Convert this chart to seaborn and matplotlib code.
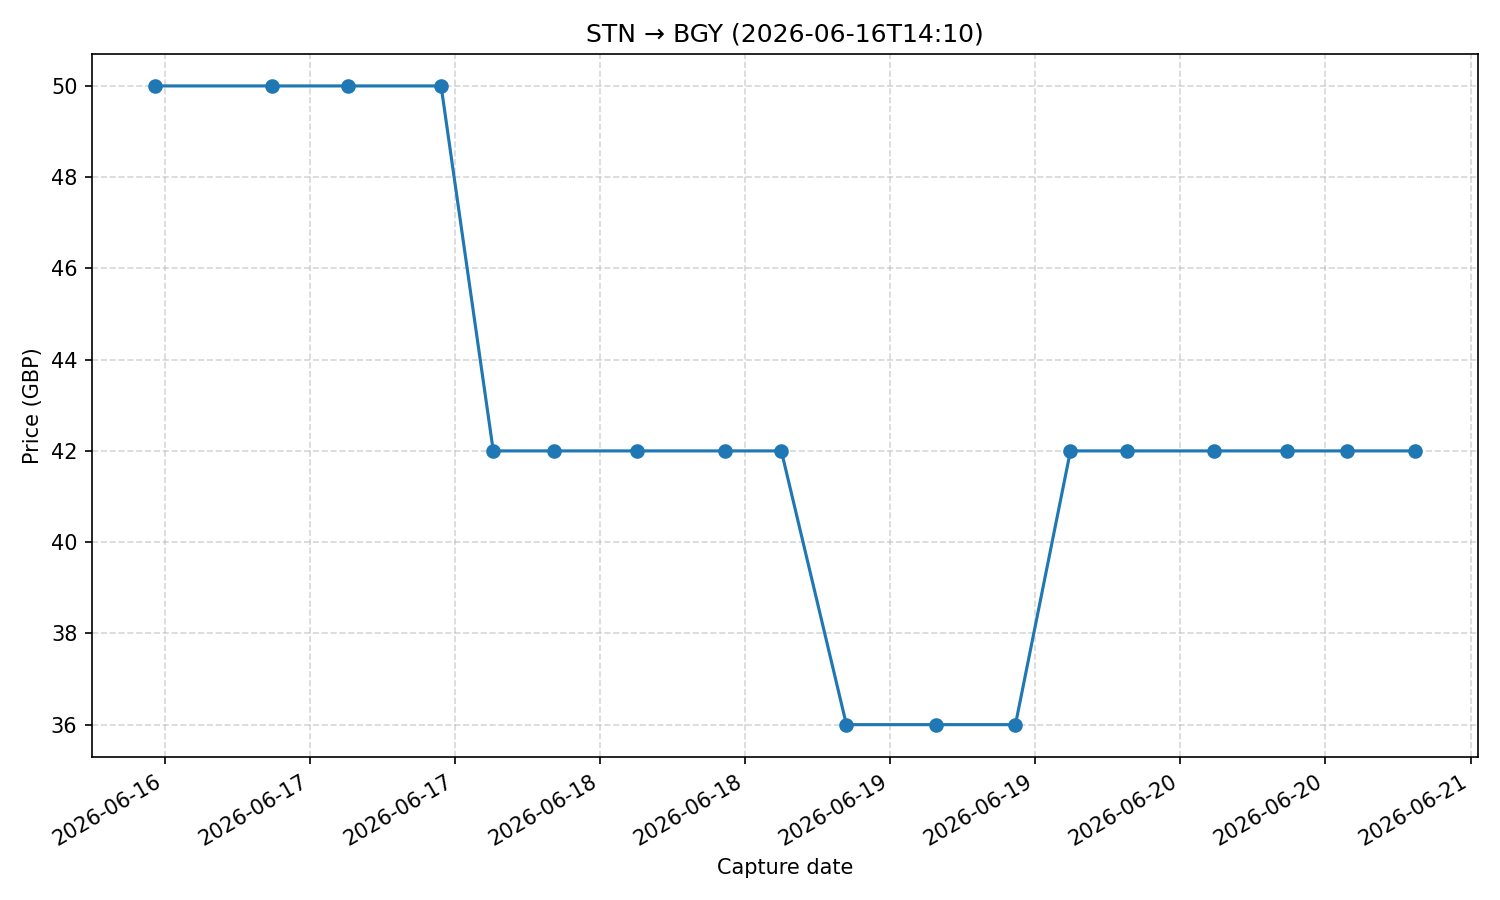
import matplotlib
matplotlib.use("Agg")
import matplotlib.pyplot as plt
import matplotlib.dates as mdates
import pandas as pd
import seaborn as sns

# DATA
capture_times = [
    "2026-06-16 11:10", "2026-06-16 20:52", "2026-06-17 03:09", "2026-06-17 10:50",
    "2026-06-17 15:09", "2026-06-17 20:11", "2026-06-18 03:04", "2026-06-18 10:20",
    "2026-06-18 14:59", "2026-06-18 20:22", "2026-06-19 03:49", "2026-06-19 10:21",
    "2026-06-19 14:54", "2026-06-19 19:37", "2026-06-20 02:49", "2026-06-20 08:51",
    "2026-06-20 13:49", "2026-06-20 19:22",
]
prices = [50, 50, 50, 50, 42, 42, 42, 42, 42, 36, 36, 36, 42, 42, 42, 42, 42, 42]

df = pd.DataFrame({"capture": pd.to_datetime(capture_times), "price": prices})

# PLOT
fig, ax = plt.subplots(figsize=(10, 6), dpi=150)
sns.lineplot(data=df, x="capture", y="price", marker="o", markersize=6,
             markeredgewidth=1, markeredgecolor="#1f77b4", color="#1f77b4", ax=ax)

ax.xaxis.set_major_locator(mdates.HourLocator(byhour=[0, 12]))
ax.xaxis.set_major_formatter(mdates.DateFormatter("%Y-%m-%d"))
ax.grid(True, linestyle="--", alpha=0.5)
ax.set_title("STN \u2192 BGY (2026-06-16T14:10)")
ax.set_xlabel("Capture date")
ax.set_ylabel("Price (GBP)")
fig.autofmt_xdate()
plt.tight_layout()
plt.savefig("out.png", dpi=150)
